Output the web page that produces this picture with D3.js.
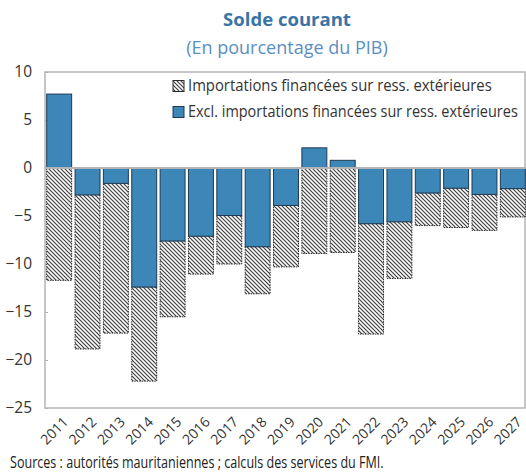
<!DOCTYPE html>
<html>
<head>
<meta charset="utf-8">
<script src="https://cdn.jsdelivr.net/npm/d3@7"></script>
<style>
  html, body { margin: 0; padding: 0; background: #fff; }
  svg { display: block; font-family: "Open Sans", "Noto Sans", sans-serif; }
</style>
</head>
<body>
<svg id="chart" width="526" height="472"></svg>
<script>
// Solde courant, en pourcentage du PIB
const years = ["2011","2012","2013","2014","2015","2016","2017","2018","2019",
               "2020","2021","2022","2023","2024","2025","2026","2027"];
// Solde hors importations financées sur ressources extérieures
const exclImports = [7.7, -2.8, -1.6, -12.4, -7.6, -7.1, -4.95, -8.2, -3.9,
                     2.1, 0.8, -5.8, -5.6, -2.6, -2.1, -2.75, -2.15];
// Importations financées sur ressources extérieures
const financedImports = [-11.7, -16.05, -15.6, -9.8, -7.9, -3.95, -5.05, -4.9, -6.4,
                         -8.9, -8.8, -11.5, -5.9, -3.4, -4.1, -3.75, -2.95];
const yTicks = [10, 5, 0, -5, -10, -15, -20, -25];
const seriesKeys = ["excl", "financed"];
const seriesLabels = {
  financed: "Importations financées sur ress. extérieures",
  excl: "Excl. importations financées sur ress. extérieures"
};

const rows = years.map((yr, i) => ({ year: yr, excl: exclImports[i], financed: financedImports[i] }));

const svg = d3.select("#chart");
const plotLeft = 45, plotRight = 525, plotTop = 72, plotBottom = 408;

const x = d3.scaleBand().domain(years).range([plotLeft, 527])
  .paddingInner(0.12).paddingOuter(0.06);
const y = d3.scaleLinear().domain([-25, 10]).range([plotBottom, plotTop]);

// Narrow a text horizontally to a target width, keeping its height.
// anchorX is the point that stays fixed (start or middle of the text).
function fitWidth(sel, width, anchorX) {
  const natural = sel.node().getComputedTextLength();
  const k = Math.min(1.03, width / natural);
  sel.attr("transform", `translate(${anchorX},0) scale(${k},1) translate(${-anchorX},0)`);
}

// hatch pattern for the financed-imports series
const defs = svg.append("defs");
const pat = defs.append("pattern")
  .attr("id", "hatch").attr("patternUnits", "userSpaceOnUse")
  .attr("width", 4).attr("height", 4);
pat.append("rect").attr("width", 4).attr("height", 4).attr("fill", "#fff");
pat.append("path")
  .attr("d", "M-1,-1 L5,5 M-1,3 L1,5 M3,-1 L5,1")
  .attr("stroke", "#404040").attr("stroke-width", 1.2);

const fills = { excl: "#3d86b8", financed: "url(#hatch)" };
const strokes = { excl: "#1e3a55", financed: "#2a2a2a" };

// title
const title = svg.append("text").attr("x", 287).attr("y", 26).attr("text-anchor", "middle")
  .attr("font-size", 18).attr("font-weight", "bold").attr("fill", "#3a74a6")
  .text("Solde courant");
fitWidth(title, 131, 287);
const subtitle = svg.append("text").attr("x", 287).attr("y", 54).attr("text-anchor", "middle")
  .attr("font-size", 17.5).attr("fill", "#5a8fc2")
  .text("(En pourcentage du PIB)");
fitWidth(subtitle, 214, 287);

// plot frame
svg.append("rect").attr("x", plotLeft).attr("y", plotTop)
  .attr("width", plotRight - plotLeft).attr("height", plotBottom - plotTop)
  .attr("fill", "none").attr("stroke", "#b4b4b4").attr("stroke-width", 1.5);

// y axis
const yAxis = svg.append("g").attr("transform", `translate(${plotLeft},0)`)
  .call(d3.axisLeft(y).tickValues(yTicks).tickSize(-3).tickPadding(13)
    .tickFormat(d3.format("d")));
yAxis.select(".domain").remove();
yAxis.selectAll(".tick line").attr("stroke", "#b4b4b4");
yAxis.selectAll(".tick text").attr("font-size", 15.5).attr("fill", "#333")
  .attr("font-family", "'Open Sans', sans-serif");

// stacked bars
const stack = d3.stack().keys(seriesKeys).offset(d3.stackOffsetDiverging);
const layers = stack(rows);

// hatched layer first so the blue outline sits on top at shared edges
const order = ["financed", "excl"];
order.forEach(key => {
  const layer = layers.find(l => l.key === key);
  svg.append("g").selectAll("rect").data(layer).join("rect")
    .attr("x", d => x(d.data.year))
    .attr("width", x.bandwidth())
    .attr("y", d => y(Math.max(d[0], d[1])))
    .attr("height", d => Math.abs(y(d[0]) - y(d[1])))
    .attr("fill", fills[key])
    .attr("stroke", strokes[key])
    .attr("stroke-width", 1)
    .attr("stroke-dasharray", key === "financed" ? "1.5,1" : null);
});

// zero line
svg.append("line").attr("x1", plotLeft).attr("x2", 527)
  .attr("y1", y(0)).attr("y2", y(0))
  .attr("stroke", "#b4b4b4").attr("stroke-width", 2);

// x labels
svg.append("g").selectAll("text").data(years).join("text")
  .attr("transform", d => `translate(${x(d) + x.bandwidth() / 2 + 3},${plotBottom + 8}) rotate(-45)`)
  .attr("text-anchor", "end").attr("dy", "0.7em")
  .attr("font-size", 14).attr("fill", "#333")
  .text(d => d);

// legend
const legendItems = ["financed", "excl"];
const lg = svg.append("g");
legendItems.forEach((key, i) => {
  const cy = 86 + i * 26;
  lg.append("rect").attr("x", 173).attr("y", cy - 5.5)
    .attr("width", 11).attr("height", 11)
    .attr("fill", fills[key]).attr("stroke", strokes[key]).attr("stroke-width", 1);
  const t = lg.append("text").attr("x", 188).attr("y", cy).attr("dy", "0.35em")
    .attr("font-size", 15.5).attr("fill", "#333")
    .text(seriesLabels[key]);
  fitWidth(t, key === "financed" ? 304 : 330, 188);
});

// source note
const note = svg.append("text").attr("x", 10).attr("y", 468)
  .attr("font-size", 16).attr("fill", "#222")
  .text("Sources : autorités mauritaniennes ; calculs des services du FMI.");
fitWidth(note, 374, 10);
</script>
</body>
</html>
